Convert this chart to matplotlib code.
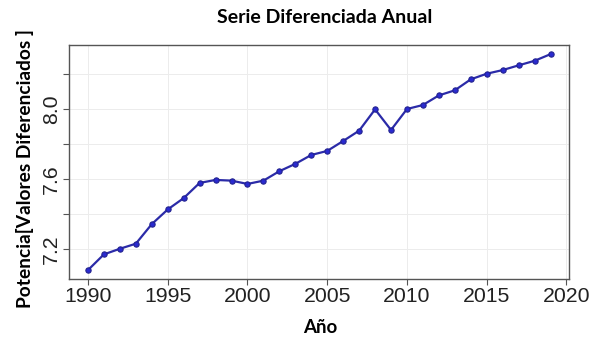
import matplotlib
matplotlib.use("Agg")
import matplotlib.pyplot as plt
import numpy as np

years = list(range(1990, 2020))
values = [7.078, 7.168, 7.200, 7.229, 7.341, 7.425, 7.490, 7.577, 7.594, 7.590,
          7.571, 7.590, 7.644, 7.686, 7.737, 7.760, 7.817, 7.876, 7.998, 7.880,
          8.000, 8.023, 8.078, 8.107, 8.170, 8.202, 8.223, 8.250, 8.276, 8.314]
x_ticks = [1990, 1995, 2000, 2005, 2010, 2015, 2020]
y_ticks = [7.2, 7.4, 7.6, 7.8, 8.0, 8.2]
y_labels = ["7.2", "", "7.6", "", "8.0", ""]

fig = plt.figure(figsize=(5.99, 3.38), dpi=100)
ax = fig.add_axes([0.1152, 0.1746, 0.835, 0.692])

ax.plot(years, values, color="#2b2ba8", lw=1.6, marker="o", ms=3.8,
        markerfacecolor="#2a2ad0", markeredgecolor="#22228f", mew=0.8, zorder=3)

ax.set_xlim(1988.81, 2020.17)
ax.set_ylim(7.027, 8.366)
ax.set_xticks(x_ticks)
ax.set_yticks(y_ticks)
ax.set_yticklabels(y_labels, rotation=90, va="center")
ax.grid(True, color="#ececec", lw=0.7)
ax.set_axisbelow(True)
for s in ax.spines.values():
    s.set_color("#555555")
    s.set_linewidth(1.0)
ax.tick_params(axis="both", length=4, width=0.8, color="#555555", labelsize=15.3,
               labelcolor="#222222", pad=1.5)
for lab in ax.get_xticklabels() + ax.get_yticklabels():
    lab.set_family(["Liberation Sans", "DejaVu Sans"])

fig.text(0.5426, 0.948, "Serie Diferenciada Anual", ha="center", va="center",
         fontsize=14, fontweight="bold", family=["Lato", "DejaVu Sans"])
fig.text(0.534, 0.0296, "Año", ha="center", va="center",
         fontsize=13.5, fontweight="bold", family=["Lato", "DejaVu Sans"])
fig.text(0.041, 0.50, "Potencia[Valores Diferenciados ]", ha="center", va="center",
         rotation=90, fontsize=13.8, fontweight="bold", family=["Lato", "DejaVu Sans"])

fig.savefig("out.png", dpi=100)
